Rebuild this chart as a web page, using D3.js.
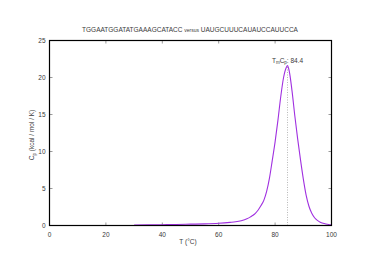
<!DOCTYPE html>
<html>
<head>
<meta charset="utf-8">
<script src="https://cdn.jsdelivr.net/npm/d3@7"></script>
<style>
  body { margin: 0; background: #fff; }
  svg { display: block; }
  text { font-family: "Liberation Sans", Arial, sans-serif; fill: #3a3a3a; }
</style>
</head>
<body>
<div id="chart"></div>
<script>
// Melting curve
const temps = [30, 35, 40, 45, 50, 55, 60, 64, 66, 68, 70, 71, 72, 73, 74, 75, 76, 77, 78, 79, 80, 81, 82, 83, 84, 84.4,
               85, 86, 87, 88, 89, 90, 91, 92, 93, 94, 95, 96, 97, 98, 99, 100];
const cpVals = [0.05, 0.08, 0.11, 0.14, 0.18, 0.22, 0.3, 0.42, 0.5, 0.65, 0.9, 1.1, 1.35, 1.65, 2.1, 2.7, 3.4, 4.6, 6.4, 8.8, 11.3, 14.2, 17.4, 20.0, 21.4, 21.6,
                20.9, 18.2, 14.8, 11.7, 8.9, 6.3, 4.1, 2.6, 1.65, 1.05, 0.7, 0.45, 0.3, 0.2, 0.13, 0.09];
const xTicks = [0, 20, 40, 60, 80, 100];
const yTicks = [0, 5, 10, 15, 20, 25];
const tm = 84.4, tmPeak = 21.6;

const width = 374, height = 264;
const margin = {left: 49.5, right: 42.5, top: 40.5, bottom: 38.5};

const svg = d3.select('#chart').append('svg')
  .attr('width', width)
  .attr('height', height);

const x = d3.scaleLinear().domain([0, 100]).range([margin.left, width - margin.right]);
const y = d3.scaleLinear().domain([0, 25]).range([height - margin.bottom, margin.top]);

// tick marks (mirrored on all sides, pointing inward)
const tickLen = 3;
const ticks = svg.append('g').attr('stroke', '#555').attr('stroke-width', 0.6);
xTicks.forEach(t => {
  ticks.append('line').attr('x1', x(t)).attr('x2', x(t)).attr('y1', y(0)).attr('y2', y(0) - tickLen);
  ticks.append('line').attr('x1', x(t)).attr('x2', x(t)).attr('y1', y(25)).attr('y2', y(25) + tickLen);
});
yTicks.forEach(t => {
  ticks.append('line').attr('x1', x(0)).attr('x2', x(0) + tickLen).attr('y1', y(t)).attr('y2', y(t));
  ticks.append('line').attr('x1', x(100)).attr('x2', x(100) - tickLen).attr('y1', y(t)).attr('y2', y(t));
});

// tick labels
svg.append('g').selectAll('text').data(xTicks).join('text')
  .attr('x', d => x(d)).attr('y', y(0) + 11)
  .attr('text-anchor', 'middle').attr('font-size', 6.5)
  .text(d => d);
svg.append('g').selectAll('text').data(yTicks).join('text')
  .attr('x', x(0) - 4).attr('y', d => y(d) + 2.3)
  .attr('text-anchor', 'end').attr('font-size', 6.5)
  .text(d => d);

// dotted line at Tm
svg.append('line')
  .attr('x1', x(tm)).attr('x2', x(tm))
  .attr('y1', y(0)).attr('y2', y(tmPeak))
  .attr('stroke', '#888').attr('stroke-width', 0.6)
  .attr('stroke-dasharray', '1,1.5');

// curve
const line = d3.line()
  .x((d, i) => x(temps[i]))
  .y(d => y(d))
  .curve(d3.curveMonotoneX);
svg.append('path')
  .datum(cpVals)
  .attr('d', line)
  .attr('fill', 'none')
  .attr('stroke', '#a030e0')
  .attr('stroke-width', 1.1);

// frame
svg.append('rect')
  .attr('x', x(0)).attr('y', y(25))
  .attr('width', x(100) - x(0)).attr('height', y(0) - y(25))
  .attr('fill', 'none').attr('stroke', '#000').attr('stroke-width', 1.2);

// peak label
const pk = svg.append('text')
  .attr('x', x(tm)).attr('y', y(tmPeak) - 3)
  .attr('text-anchor', 'middle').attr('font-size', 6.5);
pk.append('tspan').text('T');
pk.append('tspan').attr('font-size', 4.5).attr('dy', 1.5).text('m');
pk.append('tspan').attr('dy', -1.5).text('C');
pk.append('tspan').attr('font-size', 4.5).attr('dy', 1.5).text('p');
pk.append('tspan').attr('dy', -1.5).text(': ' + tm);

// title
const title = svg.append('text')
  .attr('x', 190).attr('y', 32)
  .attr('text-anchor', 'middle').attr('font-size', 6.5);
title.append('tspan').text('TGGAATGGATATGAAAGCATACC ');
title.append('tspan').attr('font-size', 5).text('versus');
title.append('tspan').text(' UAUGCUUUCAUAUCCAUUCCA');

// axis labels
svg.append('text')
  .attr('x', 188).attr('y', 244)
  .attr('text-anchor', 'middle').attr('font-size', 6.5)
  .text('T (°C)');

const yl = svg.append('text')
  .attr('transform', 'translate(34,' + 135 + ') rotate(-90)')
  .attr('text-anchor', 'middle').attr('font-size', 6.5);
yl.append('tspan').text('C');
yl.append('tspan').attr('font-size', 4.5).attr('dy', 1.5).text('p');
yl.append('tspan').attr('dy', -1.5).text(' (kcal / mol / K)');
</script>
</body>
</html>
